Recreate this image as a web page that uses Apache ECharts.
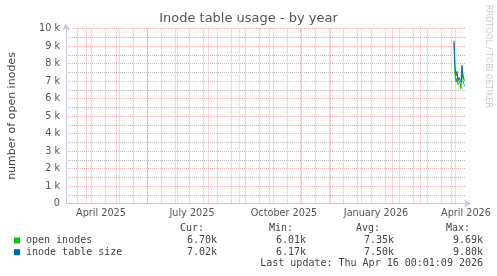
<!DOCTYPE html>
<html>
<head>
<meta charset="utf-8">
<script src="https://cdn.jsdelivr.net/npm/echarts@6/dist/echarts.min.js"></script>
<style>
html,body{margin:0;padding:0;background:#fff;}
#chart{width:497px;height:276px;}
</style>
</head>
<body>
<div id="chart"></div>
<script>
// ---- data ----
const titleText = 'Inode table usage - by year';
const yAxisTitle = 'number of open inodes';
const watermark = 'RRDTOOL / TOBI OETIKER';
const dates = ['2026-04-04','2026-04-05','2026-04-06','2026-04-07','2026-04-08','2026-04-09',
               '2026-04-10','2026-04-11','2026-04-12','2026-04-13','2026-04-14','2026-04-15'];
const openInodes = [9200, 7400, 6950, 7150, 6800, 6900, 7000, 6550, 7600, 7050, 6800, 6700];
const tableSize  = [9300, 7800, 7300, 7550, 7000, 7200, 7250, 6950, 7900, 7350, 7100, 7020];
const seriesNames = ['open inodes', 'inode table size'];
const seriesColors = ['#00CC00', '#0066B3'];
const statHeaders = ['Cur:', 'Min:', 'Avg:', 'Max:'];
const curVals = ['6.70k', '7.02k'];
const minVals = ['6.01k', '6.17k'];
const avgVals = ['7.35k', '7.50k'];
const maxVals = ['9.69k', '9.80k'];
const lastUpdate = 'Last update: Thu Apr 16 00:01:09 2026';
const xLabelDates = ['2025-04-16','2025-07-16','2025-10-16','2026-01-16','2026-04-16'];
const monthNames = ['January','February','March','April','May','June','July','August','September','October','November','December'];
const majorGridDates = ['2025-04-01','2025-05-01','2025-06-01','2025-07-01','2025-08-01','2025-09-01',
  '2025-10-01','2025-11-01','2025-12-01','2026-01-01','2026-02-01','2026-03-01','2026-04-01'];
const minorGridDates = ['2025-03-23','2025-04-06','2025-04-20','2025-05-04','2025-05-18','2025-06-01',
  '2025-06-15','2025-06-29','2025-07-13','2025-07-27','2025-08-10','2025-08-24','2025-09-07','2025-09-21',
  '2025-10-05','2025-10-19','2025-11-02','2025-11-16','2025-11-30','2025-12-14','2025-12-28','2026-01-11',
  '2026-01-25','2026-02-08','2026-02-22','2026-03-08','2026-03-22','2026-04-05'];
const xStart = '2025-03-12T00:01:09Z';
const xEnd = '2026-04-16T00:01:09Z';
const yMax = 10000, yStep = 1000;

// ---- chart ----
const ts = s => Date.parse(s.length === 10 ? s + 'T00:00:00Z' : s);
const chart = echarts.init(document.getElementById('chart'), null, {renderer: 'canvas'});
const majorColor = '#f0b0b0', minorColor = '#bdbdbd', axisColor = '#c4c4ec';
const textColor = '#555';
const monoFont = 'DejaVu Sans Mono';

const graphics = [];
graphics.push({type:'text', x:248.5, y:19, style:{text:titleText, fontFamily:'DejaVu Sans', fontSize:13,
  fill:'#555', align:'center', verticalAlign:'middle'}});
graphics.push({type:'text', x:12, y:116, rotation:Math.PI/2, style:{text:yAxisTitle, fontFamily:'DejaVu Sans',
  fontSize:11, fill:'#444', align:'center', verticalAlign:'middle'}});
graphics.push({type:'text', x:488, y:5, rotation:-Math.PI/2, style:{text:watermark, fontFamily:'DejaVu Sans',
  fontSize:8, fill:'#cacaca', align:'left', verticalAlign:'middle'}});
const headerRight = [204, 293, 380, 470];
const valueRight = [217, 306, 394, 483];
statHeaders.forEach((h, i) => graphics.push({type:'text', x:headerRight[i], y:228,
  style:{text:h, fontFamily:monoFont, fontSize:10, fill:'#444', align:'right', verticalAlign:'middle'}}));
const statCols = [curVals, minVals, avgVals, maxVals];
const rowY = [240.5, 252.2];
seriesNames.forEach((n, r) => {
  graphics.push({type:'rect', shape:{x:14, y:rowY[r]-3, width:6, height:6}, style:{fill:seriesColors[r]}});
  graphics.push({type:'text', x:26, y:rowY[r], style:{text:n, fontFamily:monoFont, fontSize:10, fill:'#444',
    align:'left', verticalAlign:'middle'}});
  statCols.forEach((col, c) => graphics.push({type:'text', x:valueRight[c], y:rowY[r],
    style:{text:col[r], fontFamily:monoFont, fontSize:10, fill:'#444', align:'right', verticalAlign:'middle'}}));
});
graphics.push({type:'text', x:483, y:263.8, style:{text:lastUpdate, fontFamily:monoFont, fontSize:10,
  fill:'#444', align:'right', verticalAlign:'middle'}});

const gridLineSeries = (list, color, z) => ({
  type:'line', data:[], z:z, silent:true,
  markLine:{silent:true, symbol:['none','none'], label:{show:false}, animation:false,
    lineStyle:{color:color, type:[1,1], width:1},
    data:list.map(d => ({xAxis: ts(d)}))}
});

chart.setOption({
  animation:false,
  backgroundColor:'#ffffff',
  grid:{left:66, right:31, top:28.5, height:175},
  xAxis:{
    type:'value', min:ts(xStart), max:ts(xEnd),
    axisLine:{show:true, lineStyle:{color:axisColor, width:1}, symbol:['none','arrow'], symbolSize:[6,7], symbolOffset:[0,5]},
    axisTick:{show:false},
    splitLine:{show:false},
    axisLabel:{show:true, customValues:xLabelDates.map(ts), margin:5, color:textColor, fontFamily:'DejaVu Sans', fontSize:9.7,
      hideOverlap:false, showMinLabel:true, showMaxLabel:true,
      formatter: v => { const d = new Date(v); return monthNames[d.getUTCMonth()] + ' ' + d.getUTCFullYear(); }}
  },
  yAxis:{
    type:'value', min:0, max:yMax, interval:yStep,
    axisLine:{show:true, lineStyle:{color:axisColor, width:1}, symbol:['none','arrow'], symbolSize:[6,7], symbolOffset:[0,5]},
    axisTick:{show:false},
    axisLabel:{margin:6, color:textColor, fontFamily:'DejaVu Sans', fontSize:9.7,
      formatter: v => v === 0 ? '0' : (v/1000) + ' k'},
    splitLine:{show:true, lineStyle:{color:majorColor, type:[1,1], width:1}},
    minorTick:{show:false, splitNumber:2},
    minorSplitLine:{show:true, lineStyle:{color:minorColor, type:[1,1], width:1}}
  },
  graphic:graphics,
  series:[
    gridLineSeries(minorGridDates, minorColor, 1),
    gridLineSeries(majorGridDates, majorColor, 2),
    {name:seriesNames[0], type:'line', z:5, showSymbol:false, symbol:'none',
      lineStyle:{color:seriesColors[0], width:1}, data:dates.map((d,i)=>[ts(d), openInodes[i]])},
    {name:seriesNames[1], type:'line', z:6, showSymbol:false, symbol:'none',
      lineStyle:{color:seriesColors[1], width:1}, data:dates.map((d,i)=>[ts(d), tableSize[i]])}
  ]
});
</script>
</body>
</html>
